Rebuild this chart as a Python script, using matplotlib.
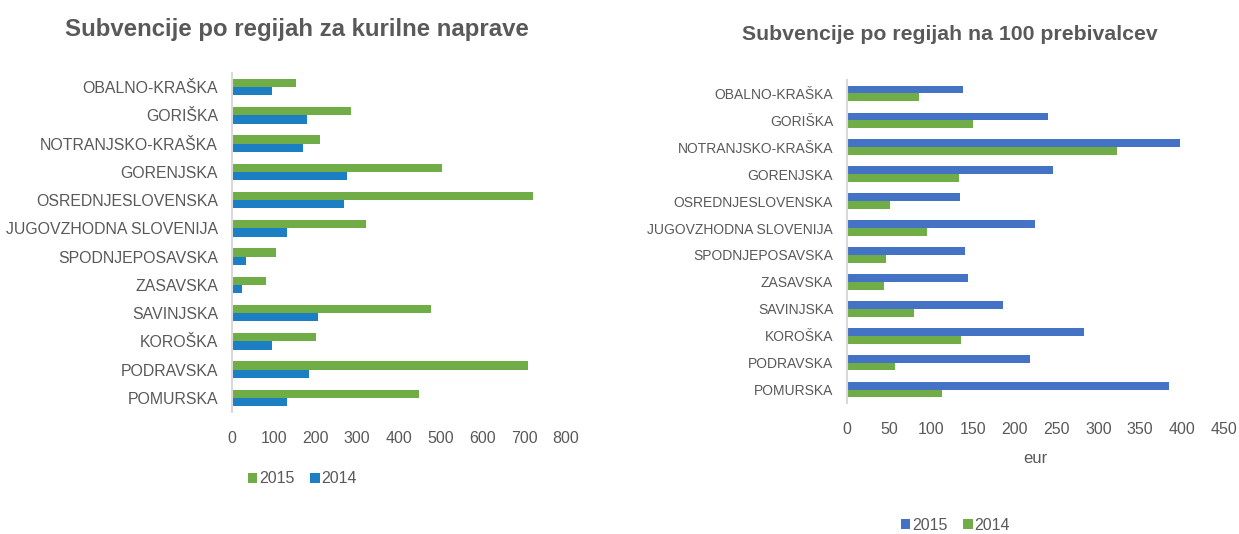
import matplotlib.pyplot as plt
import numpy as np

plt.rcParams['font.family'] = ['Liberation Sans', 'DejaVu Sans']

regions = ["OBALNO-KRAŠKA", "GORIŠKA", "NOTRANJSKO-KRAŠKA", "GORENJSKA",
           "OSREDNJESLOVENSKA", "JUGOVZHODNA SLOVENIJA", "SPODNJEPOSAVSKA",
           "ZASAVSKA", "SAVINJSKA", "KOROŠKA", "PODRAVSKA", "POMURSKA"]

# subvencije za kurilne naprave (tisoc eur)
naprave_2015 = [154, 284, 211, 502, 722, 322, 105, 81, 476, 202, 708, 447]
naprave_2014 = [96, 179, 171, 275, 269, 133, 33, 23, 206, 96, 185, 133]

# subvencije na 100 prebivalcev (eur)
preb_2015 = [138, 240, 398, 246, 135, 225, 141, 145, 186, 283, 218, 384]
preb_2014 = [86, 150, 322, 134, 51, 95, 46, 44, 80, 136, 57, 114]

grey = "#595959"
green = "#70AD47"
blue_l = "#1C7FC3"
blue_r = "#4472C4"

fig = plt.figure(figsize=(12.39, 5.34), dpi=100)
y = np.arange(len(regions))
h = 0.29


def style(ax, ticks, lim, pad, ysize):
    ax.set_yticks(y)
    ax.set_yticklabels(regions)
    ax.set_ylim(len(regions) - 0.5, -0.5)
    ax.set_xlim(*lim)
    ax.set_xticks(ticks)
    for s in ["top", "right", "bottom"]:
        ax.spines[s].set_visible(False)
    ax.spines["left"].set_color("#D9D9D9")
    ax.spines["left"].set_linewidth(1.5)
    ax.tick_params(axis="y", length=0, pad=10, labelsize=ysize, labelcolor=grey)
    ax.tick_params(axis="x", length=0, pad=pad, labelsize=11.5, labelcolor=grey)


# left chart
ax1 = fig.add_axes([0.1872, 0.2285, 0.2696, 0.6348])
b1 = ax1.barh(y - h / 2, naprave_2015, height=h, color=green, label="2015")
b2 = ax1.barh(y + h / 2, naprave_2014, height=h, color=blue_l, label="2014")
style(ax1, range(0, 801, 100), (0, 800), 13.5, 11.4)
fig.text(0.240, 0.945, "Subvencije po regijah za kurilne naprave", ha="center",
         va="center", fontsize=17.3, fontweight="bold", color=grey)
fig.legend(handles=[b1, b2], loc="center", bbox_to_anchor=(0.244, 0.103),
           ncol=2, frameon=False, fontsize=11.5, labelcolor=grey,
           handlelength=0.6, handleheight=0.6, handletextpad=0.1,
           columnspacing=1.0)

# right chart
ax2 = fig.add_axes([0.6836, 0.2453, 0.3043, 0.6049])
b3 = ax2.barh(y - h / 2, preb_2015, height=h, color=blue_r, label="2015")
b4 = ax2.barh(y + h / 2, preb_2014, height=h, color=green, label="2014")
style(ax2, range(0, 451, 50), (0, 450), 14, 10)
ax2.set_xlabel("eur", fontsize=12, color=grey, labelpad=10)
fig.text(0.767, 0.935, "Subvencije po regijah na 100 prebivalcev", ha="center",
         va="center", fontsize=15.3, fontweight="bold", color=grey)
fig.legend(handles=[b3, b4], loc="center", bbox_to_anchor=(0.771, 0.016),
           ncol=2, frameon=False, fontsize=11.5, labelcolor=grey,
           handlelength=0.6, handleheight=0.6, handletextpad=0.1,
           columnspacing=1.0)

fig.savefig("out.png", dpi=100)
